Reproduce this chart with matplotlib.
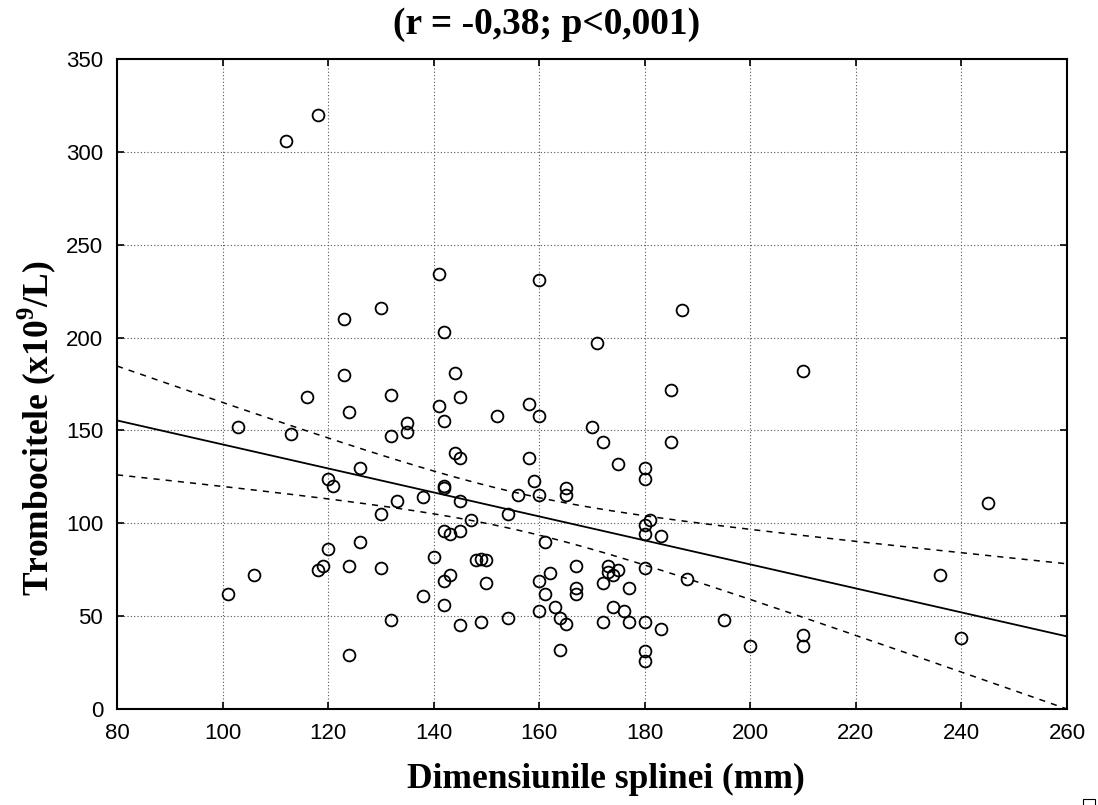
import numpy as np
import matplotlib.pyplot as plt
from matplotlib.patches import Rectangle

plt.rcParams['mathtext.fontset'] = 'custom'
plt.rcParams['mathtext.rm'] = 'Liberation Serif:bold'
plt.rcParams['mathtext.bf'] = 'Liberation Serif:bold'

# spleen size (mm) vs platelets (x10^9/L)
splina = [112, 118, 101, 103, 106, 113, 116, 118, 119, 120, 120, 121, 123, 123,
          124, 124, 124, 126, 126, 130, 130, 130, 132, 132, 132, 133, 135, 135,
          138, 138, 140, 141, 141, 142, 142, 142, 142, 142, 142, 142, 143, 143,
          144, 144, 145, 145, 145, 145, 145, 147, 148, 149, 149, 150, 150, 152,
          154, 154, 156, 158, 158, 159, 160, 160, 160, 160, 160, 161, 161, 162,
          163, 164, 164, 165, 165, 165, 167, 167, 167, 170, 171, 172, 172, 172,
          173, 173, 174, 174, 175, 175, 176, 177, 177, 180, 180, 180, 180, 180,
          180, 180, 180, 181, 183, 183, 185, 185, 187, 188, 195, 200, 210, 210,
          210, 236, 240, 245]
trombocite = [306, 320, 62, 152, 72, 148, 168, 75, 77, 124, 86, 120, 210, 180,
              160, 77, 29, 130, 90, 216, 105, 76, 169, 147, 48, 112, 154, 149,
              114, 61, 82, 234, 163, 203, 155, 120, 119, 96, 69, 56, 72, 94,
              181, 138, 168, 135, 112, 96, 45, 102, 80, 81, 47, 80, 68, 158,
              105, 49, 115, 164, 135, 123, 231, 158, 115, 69, 53, 90, 62, 73,
              55, 49, 32, 119, 115, 46, 77, 65, 62, 152, 197, 144, 68, 47,
              77, 74, 72, 55, 132, 75, 53, 65, 47, 130, 124, 99, 94, 76,
              47, 31, 26, 102, 93, 43, 172, 144, 215, 70, 48, 34, 182, 40,
              34, 72, 38, 111]

x = np.array(splina, dtype=float)
y = np.array(trombocite, dtype=float)
n = len(x)

# linear fit + 95% confidence band of the mean
b, a = np.polyfit(x, y, 1)
xs = np.linspace(80, 260, 200)
yfit = a + b * xs
resid = y - (a + b * x)
s = np.sqrt(np.sum(resid ** 2) / (n - 2))
t = 1.98
se = s * np.sqrt(1.0 / n + (xs - x.mean()) ** 2 / np.sum((x - x.mean()) ** 2))

fig = plt.figure(figsize=(10.98, 8.05), dpi=100)
ax = fig.add_axes([0.1066, 0.1193, 0.8652, 0.8074])

ax.grid(True, color='#555555', linestyle=(0, (1, 2)), linewidth=0.8)
ax.set_axisbelow(True)

ax.plot(xs, yfit, color='black', linewidth=1.3)
ax.plot(xs, yfit + t * se, color='black', linewidth=1.1, linestyle=(0, (4, 4)))
ax.plot(xs, yfit - t * se, color='black', linewidth=1.1, linestyle=(0, (4, 4)))
ax.plot(x, y, 'o', markersize=8.5, markerfacecolor='none', markeredgecolor='black',
        markeredgewidth=1.3, linestyle='none', clip_on=False)

ax.set_xlim(80, 260)
ax.set_ylim(0, 350)
ax.set_xticks(np.arange(80, 261, 20))
ax.set_yticks(np.arange(0, 351, 50))
ax.tick_params(direction='in', length=5, width=1.2, top=True, right=True,
               labelsize=16)
ax.tick_params(axis='x', pad=10)
ax.tick_params(axis='y', pad=10)
for lab in ax.get_xticklabels() + ax.get_yticklabels():
    lab.set_family('Liberation Sans')
for sp in ax.spines.values():
    sp.set_linewidth(1.5)

serif = {'family': 'Liberation Serif', 'weight': 'bold'}
ax.set_xlabel('Dimensiunile splinei (mm)', fontsize=25.5, labelpad=14, **serif)
ax.set_ylabel('Trombocitele (x10$^{9}$/L)', fontsize=25.5, labelpad=6, **serif)
ax.xaxis.label.set_x(0.515)
ax.yaxis.label.set_y(0.432)
ax.set_title('(r = -0,38; p<0,001)', fontsize=27, pad=18, x=0.4526, **serif)

fig.patches.append(Rectangle((0.986, -0.002), 0.011, 0.01, transform=fig.transFigure,
                             fill=False, edgecolor='black', linewidth=0.8))

fig.savefig('out.png', dpi=100)
